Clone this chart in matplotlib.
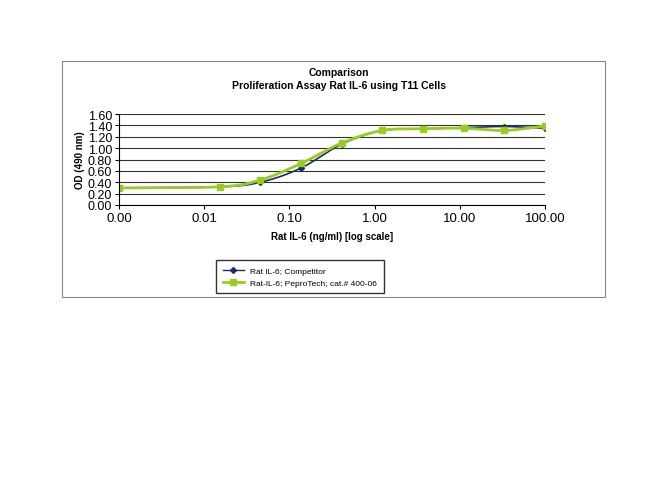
import matplotlib
matplotlib.use("Agg")
import matplotlib.pyplot as plt
import numpy as np
from matplotlib.patches import Rectangle

plt.rcParams["font.family"] = ["Liberation Sans", "DejaVu Sans"]

conc = [0.001, 0.0152, 0.0457, 0.137, 0.41, 1.23, 3.7, 11.1, 33.3, 100.0]
od_competitor = [0.30, 0.32, 0.40, 0.65, 1.07, 1.31, 1.34, 1.36, 1.38, 1.35]
od_peprotech = [0.30, 0.32, 0.44, 0.73, 1.09, 1.31, 1.34, 1.35, 1.31, 1.39]
y_ticks = [0.0, 0.2, 0.4, 0.6, 0.8, 1.0, 1.2, 1.4, 1.6]
x_ticks = [0.001, 0.01, 0.1, 1, 10, 100]


def smooth(xs, ys, n=30):
    # Catmull-Rom through the points in log-x space (Excel-like smoothed line)
    lx = np.log10(xs)
    ys = np.asarray(ys, float)
    px = np.concatenate([[2 * lx[0] - lx[1]], lx, [2 * lx[-1] - lx[-2]]])
    py = np.concatenate([[2 * ys[0] - ys[1]], ys, [2 * ys[-1] - ys[-2]]])
    ox, oy = [], []
    t = np.linspace(0, 1, n)
    for i in range(1, len(px) - 2):
        for arr, out in ((px, ox), (py, oy)):
            p0, p1, p2, p3 = arr[i - 1:i + 3]
            out.extend(0.5 * (2 * p1 + (-p0 + p2) * t + (2 * p0 - 5 * p1 + 4 * p2 - p3) * t**2
                              + (-p0 + 3 * p1 - 3 * p2 + p3) * t**3))
    return 10 ** np.array(ox), np.array(oy)


fig = plt.figure(figsize=(6.5, 5.02), dpi=100)
fig.patches.append(Rectangle((62 / 650, 1 - 298 / 502), 543 / 650, 236 / 502,
                             transform=fig.transFigure, fill=False, ec="#888888", lw=0.8))
ax = fig.add_axes([119 / 650, 1 - 206 / 502, 426 / 650, 91 / 502])

sx, sy = smooth(conc, od_competitor)
ax.plot(sx, sy, color="#1f2a6b", lw=1.2)
ax.plot(conc, od_competitor, "D", color="#1f2a6b", ms=3)
sx, sy = smooth(conc, od_peprotech)
ax.plot(sx, sy, color="#99cc22", lw=2)
ax.plot(conc, od_peprotech, "s", color="#99cc22", ms=4.5)
# legend proxies
h1, = ax.plot([], [], "-D", color="#1f2a6b", ms=3, lw=1)
h2, = ax.plot([], [], "-s", color="#99cc22", ms=4.5, lw=2)

ax.set_xscale("log")
ax.set_xlim(0.001, 100)
ax.set_ylim(0, 1.6)
ax.set_xticks(x_ticks)
ax.set_xticklabels(["0.00", "0.01", "0.10", "1.00", "10.00", "100.00"], fontsize=9.5)
ax.xaxis.set_minor_locator(matplotlib.ticker.NullLocator())
ax.set_yticks(y_ticks)
ax.set_yticklabels([f"{v:.2f}" for v in y_ticks], fontsize=9)
ax.grid(axis="y", color="#333333", lw=0.8)
ax.set_axisbelow(True)
for s in ["top", "right"]:
    ax.spines[s].set_visible(False)
ax.tick_params(length=3, pad=2)
ax.set_xlabel("Rat IL-6 (ng/ml) [log scale]", fontsize=7, fontweight="bold", labelpad=5)
ax.set_ylabel("OD (490 nm)", fontsize=7, fontweight="bold", labelpad=2)

fig.text(0.5 * (119 + 545) / 650 + 0.01, 1 - 73 / 502, "Comparison", ha="center", va="center",
         fontsize=7.5, fontweight="bold")
fig.text(0.5 * (119 + 545) / 650 + 0.01, 1 - 86 / 502, "Proliferation Assay Rat IL-6 using T11 Cells",
         ha="center", va="center", fontsize=7.5, fontweight="bold")

fig.legend([h1, h2], ["Rat IL-6; Competitor", "Rat-IL-6; PeproTech; cat.# 400-06"],
           loc="upper left", bbox_to_anchor=(212 / 650, 1 - 257 / 502), fontsize=6,
           frameon=True, fancybox=False, edgecolor="black", handlelength=2.5, borderpad=0.8)

fig.savefig("out.png", dpi=100)
